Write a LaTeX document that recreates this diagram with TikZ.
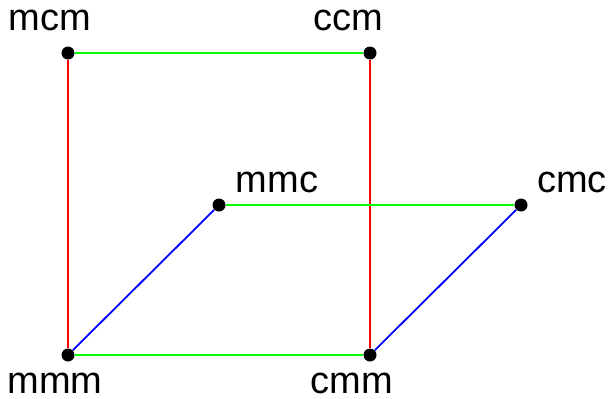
\documentclass[tikz,border=0pt]{standalone}
\usepackage{fontspec}
\setmainfont{Liberation Sans}
\begin{document}
\begin{tikzpicture}[x=0.5pt, y=-0.5pt,
  v/.style={circle,fill=black,minimum size=6.5pt,inner sep=0pt},
  lbl/.style={anchor=base,inner sep=0pt,font=\fontsize{19}{19}\selectfont},
  e/.style={line width=0.9pt}]
\useasboundingbox (0,0) rectangle (613,398);
% corners of the two faces
\node[v] (mcm) at (68,53) {}; \node[v] (ccm) at (370,53) {};
\node[v] (mmc) at (219,205) {}; \node[v] (cmc) at (521,205) {};
\node[v] (mmm) at (68,355) {}; \node[v] (cmm) at (370,355) {};
% labels
\node[lbl] (lmcm) at (50,30) {mcm}; \node[lbl] (lccm) at (348,30) {ccm};
\node[lbl] (lmmc) at (277,192) {mmc}; \node[lbl] (lcmc) at (572,192) {cmc};
\node[lbl] (lmmm) at (55,393) {mmm}; \node[lbl] (lcmm) at (352,393) {cmm};
% edges: red vertical, green horizontal, blue diagonal
\draw[e,red] (mcm)--(mmm); \draw[e,red] (ccm)--(cmm);
\draw[e,green] (mcm)--(ccm); \draw[e,green] (mmm)--(cmm); \draw[e,green] (mmc)--(cmc);
\draw[e,blue] (mmm)--(mmc); \draw[e,blue] (cmm)--(cmc);
\end{tikzpicture}
\end{document}
